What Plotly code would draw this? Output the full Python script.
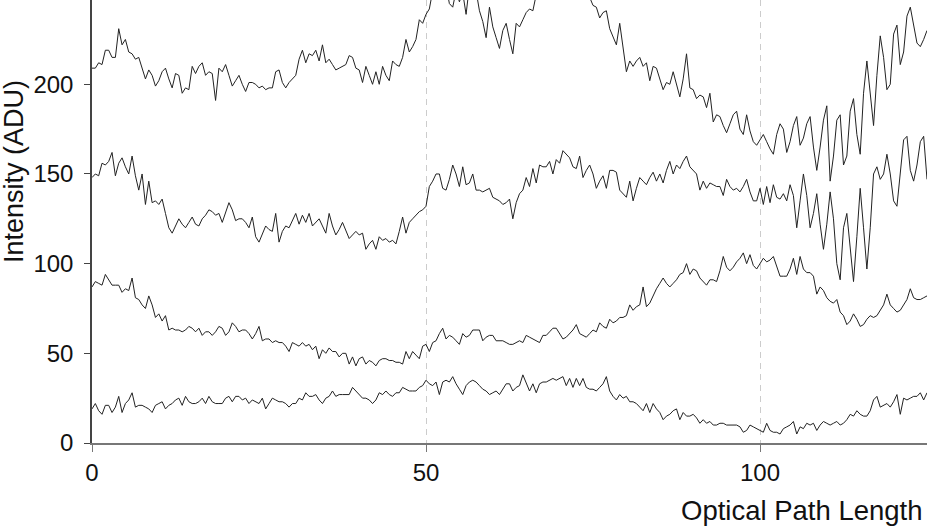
import plotly.graph_objects as go

# x positions: 0 to 125 in steps of 0.5
x_step = 0.5

# Series (bottom to top)
series_a = [
    19, 22, 18, 16, 21, 21, 17, 20, 26, 17, 22, 24, 28, 20, 21, 21, 20, 19, 17, 21,
    22, 23, 19, 21, 22, 24, 25, 21, 26, 23, 22, 22, 23, 25, 22, 26, 23, 22, 22, 22,
    25, 26, 23, 26, 26, 24, 25, 22, 24, 23, 22, 25, 19, 22, 25, 24, 23, 23, 22, 20,
    22, 22, 25, 24, 28, 26, 26, 27, 24, 22, 25, 26, 29, 26, 27, 27, 27, 27, 31, 29,
    27, 25, 25, 24, 22, 24, 28, 27, 29, 27, 26, 28, 28, 31, 30, 29, 29, 29, 31, 32,
    35, 33, 32, 34, 27, 34, 35, 34, 37, 33, 30, 27, 32, 34, 35, 34, 32, 30, 29, 27,
    28, 29, 27, 30, 33, 33, 29, 31, 32, 38, 33, 29, 33, 28, 33, 34, 34, 35, 36, 35,
    36, 37, 32, 36, 31, 36, 32, 36, 31, 30, 30, 29, 31, 33, 37, 29, 26, 24, 27, 25,
    26, 23, 23, 22, 20, 18, 22, 17, 22, 19, 17, 13, 15, 16, 18, 19, 13, 17, 15, 15,
    16, 14, 11, 13, 11, 12, 10, 10, 11, 11, 10, 10, 10, 10, 9, 6, 7, 10, 9, 8,
    7, 6, 11, 7, 6, 6, 5, 8, 9, 10, 12, 5, 9, 8, 11, 10, 11, 7, 10, 12,
    11, 10, 11, 12, 10, 11, 13, 16, 15, 18, 16, 15, 15, 18, 24, 26, 20, 21, 22, 20,
    23, 27, 16, 25, 24, 25, 26, 26, 28, 24, 28,
]

series_b = [
    87, 90, 89, 88, 94, 91, 88, 88, 88, 84, 86, 85, 92, 81, 80, 77, 75, 82, 77, 70,
    72, 68, 71, 63, 64, 63, 63, 62, 63, 65, 64, 62, 64, 60, 62, 62, 60, 62, 65, 64,
    60, 62, 67, 65, 62, 63, 63, 61, 58, 61, 65, 57, 58, 58, 56, 57, 56, 56, 54, 51,
    56, 55, 54, 56, 54, 55, 52, 54, 47, 52, 50, 53, 51, 51, 48, 50, 50, 44, 48, 43,
    47, 48, 44, 46, 45, 43, 46, 47, 47, 46, 46, 45, 45, 44, 51, 47, 51, 49, 47, 54,
    55, 51, 56, 57, 61, 64, 58, 60, 59, 57, 55, 61, 59, 60, 63, 63, 63, 57, 59, 60,
    60, 57, 57, 57, 56, 55, 55, 56, 57, 56, 60, 59, 58, 57, 56, 60, 60, 62, 64, 64,
    61, 58, 59, 61, 63, 66, 61, 60, 59, 61, 63, 62, 67, 65, 64, 69, 67, 68, 70, 70,
    71, 77, 74, 76, 77, 87, 76, 78, 82, 86, 89, 92, 89, 87, 89, 91, 94, 95, 100, 94,
    97, 96, 92, 90, 88, 91, 91, 90, 96, 104, 98, 96, 98, 101, 103, 106, 100, 105, 99, 97,
    100, 103, 101, 102, 104, 99, 93, 93, 93, 97, 103, 94, 104, 97, 95, 95, 93, 83, 87, 85,
    81, 79, 78, 80, 73, 71, 66, 68, 72, 69, 65, 66, 69, 71, 70, 71, 74, 77, 83, 77,
    75, 73, 74, 77, 80, 86, 81, 80, 80, 81, 82,
]

series_c = [
    148, 150, 149, 156, 155, 157, 162, 149, 156, 159, 154, 150, 160, 149, 141, 150, 133, 146, 134, 135,
    133, 136, 128, 120, 117, 121, 125, 122, 120, 123, 126, 122, 121, 125, 127, 130, 129, 127, 128, 123,
    128, 134, 130, 124, 125, 125, 123, 120, 126, 115, 112, 117, 121, 119, 118, 128, 112, 118, 121, 120,
    124, 128, 122, 127, 123, 128, 121, 123, 125, 121, 117, 128, 121, 116, 119, 123, 118, 114, 116, 118,
    116, 117, 108, 111, 113, 108, 115, 113, 114, 112, 113, 111, 118, 126, 117, 123, 125, 127, 129, 130,
    132, 143, 146, 150, 150, 142, 141, 147, 155, 150, 143, 154, 144, 145, 150, 141, 141, 140, 141, 142,
    137, 136, 135, 133, 134, 136, 125, 134, 139, 141, 148, 143, 153, 145, 155, 154, 154, 157, 150, 158,
    156, 163, 161, 159, 154, 153, 160, 148, 152, 155, 150, 142, 146, 149, 142, 152, 152, 151, 141, 139,
    137, 146, 135, 142, 148, 146, 144, 148, 151, 146, 150, 145, 152, 157, 150, 155, 153, 157, 160, 154,
    152, 150, 141, 146, 142, 145, 144, 143, 143, 138, 147, 143, 141, 142, 140, 143, 147, 140, 135, 135,
    142, 133, 143, 134, 144, 137, 136, 139, 135, 144, 138, 120, 135, 150, 138, 120, 128, 139, 122, 108,
    122, 140, 125, 100, 91, 120, 128, 110, 90, 115, 142, 120, 97, 120, 150, 154, 147, 150, 161, 150,
    135, 132, 150, 169, 171, 152, 146, 155, 168, 171, 147,
]

series_d = [
    209, 209, 212, 211, 219, 219, 215, 215, 231, 222, 225, 218, 217, 214, 215, 209, 203, 208, 205, 199,
    202, 207, 209, 203, 198, 206, 205, 195, 198, 197, 210, 206, 210, 212, 205, 207, 206, 191, 209, 207,
    211, 205, 199, 202, 205, 200, 196, 201, 201, 200, 198, 199, 197, 198, 198, 207, 208, 201, 198, 201,
    203, 205, 214, 219, 212, 217, 216, 219, 213, 222, 212, 214, 211, 208, 209, 210, 211, 216, 215, 209,
    208, 201, 210, 205, 200, 207, 200, 210, 205, 202, 213, 211, 210, 215, 225, 218, 221, 225, 236, 234,
    239, 242, 252, 258, 250, 247, 255, 245, 243, 252, 246, 251, 239, 255, 260, 252, 241, 235, 226, 243,
    232, 226, 220, 230, 234, 225, 217, 234, 232, 236, 240, 242, 241, 250, 256, 262, 258, 265, 260, 268,
    263, 270, 265, 262, 258, 262, 255, 247, 253, 248, 244, 243, 237, 240, 241, 231, 226, 222, 234, 220,
    207, 213, 210, 213, 215, 210, 212, 202, 210, 209, 203, 197, 201, 200, 207, 200, 193, 203, 217, 198,
    197, 192, 194, 193, 187, 195, 179, 183, 182, 177, 173, 178, 183, 185, 175, 172, 183, 174, 168, 166,
    169, 172, 168, 164, 161, 172, 178, 175, 162, 168, 177, 182, 166, 170, 178, 182, 165, 152, 165, 180,
    188, 146, 160, 180, 183, 155, 160, 185, 192, 172, 161, 195, 213, 195, 177, 205, 227, 215, 197, 200,
    228, 233, 211, 218, 238, 243, 232, 223, 221, 225, 230,
]

x_tick_vals = [0, 50, 100]
y_tick_vals = [0, 50, 100, 150, 200]

x_title = "Optical Path Length"
y_title = "Intensity (ADU)"

fig = go.Figure()
for s in [series_a, series_b, series_c, series_d]:
    xs = [i * x_step for i in range(len(s))]
    fig.add_trace(go.Scatter(x=xs, y=s, mode="lines",
                             line=dict(color="#222222", width=1),
                             showlegend=False, hoverinfo="skip"))

font_family = "Liberation Sans, Arial, Helvetica, sans-serif"

fig.update_layout(
    width=927, height=529,
    margin=dict(l=92, r=0, t=0, b=86, pad=0),
    paper_bgcolor="white", plot_bgcolor="white",
    font=dict(family=font_family, size=24, color="#111111"),
    xaxis=dict(
        range=[0, 125], tickvals=x_tick_vals, ticktext=[str(v) for v in x_tick_vals],
        showgrid=True, gridcolor="#cccccc", gridwidth=1, griddash="6px,5px",
        showline=True, linecolor="#777777", linewidth=2,
        ticks="outside", ticklen=7, tickcolor="#777777", tickwidth=1,
        ticklabelstandoff=0,
        zeroline=False, tickfont=dict(size=24),
    ),
    yaxis=dict(
        range=[0, 247], tickvals=y_tick_vals, ticktext=[str(v) for v in y_tick_vals],
        showgrid=False,
        showline=True, linecolor="#444444", linewidth=1.5,
        ticks="outside", ticklen=6, tickcolor="#444444", tickwidth=1,
        ticklabelstandoff=6,
        zeroline=False, tickfont=dict(size=24),
    ),
    annotations=[
        dict(text=x_title, xref="paper", yref="paper", x=(925 - 92) / 835, y=-(510 - 443) / 443,
             xanchor="right", yanchor="middle", showarrow=False,
             font=dict(size=27.5, family=font_family, color="#111111")),
        dict(text=y_title, xref="paper", yref="paper", x=-(92 - 14) / 835, y=(443 - 172) / 443,
             xanchor="center", yanchor="middle", textangle=-90, showarrow=False,
             font=dict(size=27, family=font_family, color="#111111")),
    ],
)

fig.write_html("out.html", config={"displayModeBar": False},
               post_script="document.body.style.margin='0';document.body.style.padding='0';")
